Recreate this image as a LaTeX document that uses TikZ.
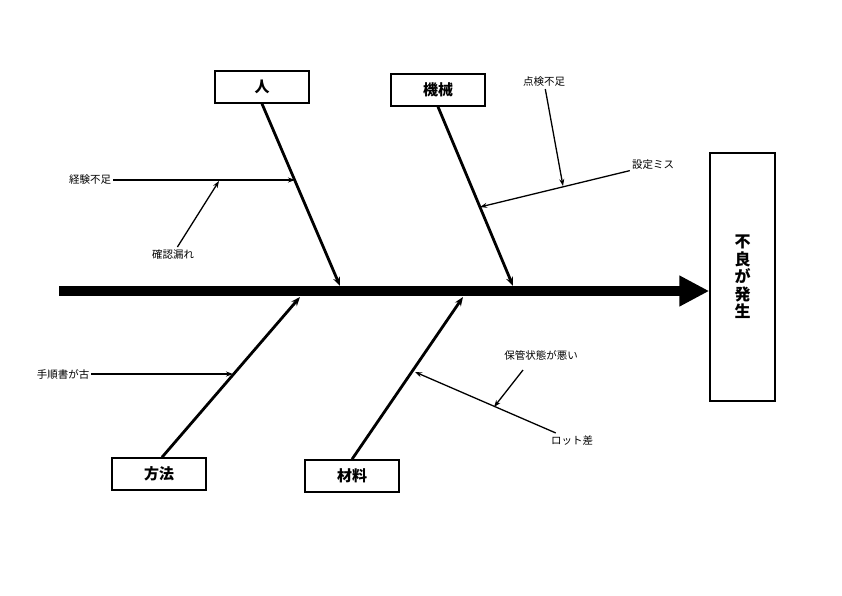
\documentclass[tikz,border=0pt]{standalone}
\usepackage{fontspec}
\newfontfamily\cjk{Noto Sans CJK JP}
\usetikzlibrary{arrows.meta, positioning, calc}

\begin{document}
\begin{tikzpicture}[
  x=1pt, y=-1pt,
  font=\cjk\fontsize{10.5}{12}\selectfont,
  >=Stealth,
  cause/.style={
    rectangle, draw=black, line width=1.5pt,
    minimum height=32pt, minimum width=94pt, align=center,
    fill=white, font=\cjk\bfseries\fontsize{15}{18}\selectfont
  },
  effect/.style={
    rectangle, draw=black, line width=1.5pt,
    minimum height=248pt, minimum width=65pt, align=center,
    fill=white, font=\cjk\bfseries\fontsize{16}{17.5}\selectfont
  },
  spine/.style={line width=10pt, -{Triangle[length=30pt, width=29pt]}},
  bone/.style={line width=2.8pt, -{Stealth[length=9pt, width=7pt]}},
  sub/.style={line width=1.3pt, -{Stealth[length=7pt, width=5pt]}},
  reason/.style={inner sep=2pt, font=\cjk\fontsize{10.5}{12}\selectfont}
]
\useasboundingbox (0,0) rectangle (842,595);

% Effect and main causes
\node[effect] (effect) at (742.5,277) {不\\良\\が\\発\\生};
\node[cause] (hito) at (262,87) {人};
\node[cause] (kikai) at (438,90) {機械};
\node[cause] (houhou) at (159,474) {方法};
\node[cause] (zairyo) at (352,476) {材料};

% Spine
\coordinate (tail) at (59,291);
\draw[spine] (tail) -- (tail -| effect.west);

% Bones
\coordinate (hitoEnd) at (340,286);
\coordinate (kikaiEnd) at (513,286);
\coordinate (houhouEnd) at (300,297);
\coordinate (zairyoEnd) at (463,297);
\draw[bone] (hito.south) -- (hitoEnd);
\draw[bone] (kikai.south) -- (kikaiEnd);
\draw[bone] ([xshift=3]houhou.north) -- (houhouEnd);
\draw[bone] (zairyo.north) -- (zairyoEnd);

% Sub causes
\node[reason] (keiken) at (90,180) {経験不足};
\coordinate (keikenEnd) at (295,180);
\draw[sub] (keiken) -- (keikenEnd);

\node[reason] (kakunin) at (173,254) {確認漏れ};
\coordinate (kakuninEnd) at (219,181);
\draw[sub] (kakunin) -- (kakuninEnd);

\node[reason] (settei) at (653,165) {設定ミス};
\coordinate (setteiEnd) at (480,207);
\draw[sub] (settei) -- (setteiEnd);

\node[reason] (tenken) at (544,82) {点検不足};
\coordinate (tenkenEnd) at (563,186);
\draw[sub] (tenken) -- (tenkenEnd);

\node[reason] (tejun) at (63,374) {手順書が古};
\coordinate (tejunEnd) at (233,374);
\draw[sub] (tejun) -- (tejunEnd);

\node[reason] (lot) at (572,440) {ロット差};
\coordinate (lotEnd) at (415,372);
\draw[sub] (lot) -- (lotEnd);

\node[reason] (hokan) at (541,355) {保管状態が悪い};
\coordinate (hokanStart) at (523,370);
\coordinate (hokanEnd) at (494,407);
\draw[sub] (hokanStart) -- (hokanEnd);

\end{tikzpicture}
\end{document}
